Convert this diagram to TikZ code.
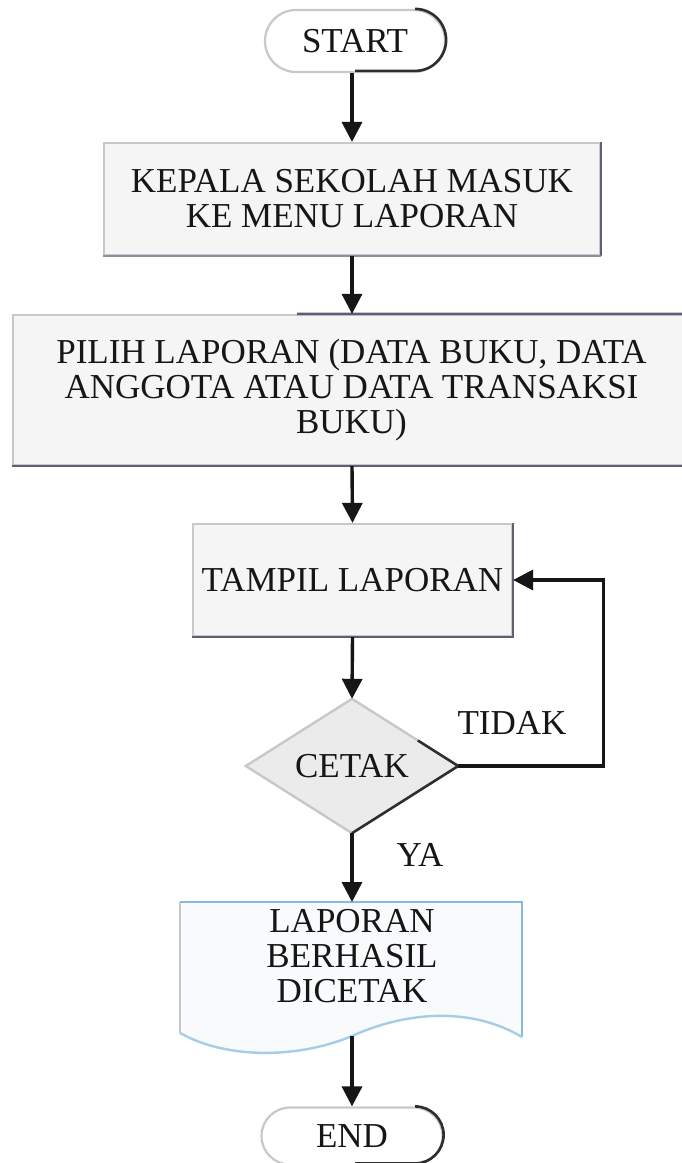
\documentclass[tikz,border=0pt]{standalone}
\usepackage{fontspec}
\setmainfont{Liberation Serif}
\usetikzlibrary{arrows.meta,shapes.geometric,calc}

\definecolor{ink}{HTML}{161616}
\definecolor{boxfill}{HTML}{F5F5F5}
\definecolor{edgelight}{HTML}{C8C8CC}
\definecolor{edgedark}{HTML}{5E5E76}
\definecolor{termdark}{HTML}{2E2E2E}
\definecolor{diafill}{HTML}{EBEBEB}
\definecolor{docfill}{HTML}{F8FAFC}
\definecolor{docblue}{HTML}{86BBDF}
\definecolor{docwave}{HTML}{A6CDE8}

\begin{document}
\begin{tikzpicture}[x=1pt,y=-1pt,
  every node/.style={font=\fontsize{35}{35}\selectfont, text=ink, inner sep=0pt},
  procbox/.style={draw=edgelight, fill=boxfill, line width=2.2pt, align=center},
  termbox/.style={draw=edgelight, fill=white, line width=2.2pt},
  darkedge/.style={draw=edgedark, line width=2.4pt},
  termedge/.style={draw=termdark, line width=2.6pt},
  arr/.style={draw=ink, line width=3.4pt, -{Triangle[width=20pt,length=20pt]}},
  lbl/.style={text=ink}]

\useasboundingbox (0,0) rectangle (682,1163);
\fill[white] (0,0) rectangle (682,1163);

% start terminal
\node[termbox, rounded corners=31pt, minimum width=180pt, minimum height=62pt] (start) at (355,41) {START};
\draw[termedge] ([xshift=-31pt]start.north east) arc[start angle=90, end angle=-90, radius=31pt] -- ++(-60pt,0);

% process steps
\node[procbox, minimum width=496pt, minimum height=112pt] (b1) at (352,199)
  {KEPALA SEKOLAH MASUK\\KE MENU LAPORAN};
\draw[darkedge] (b1.north east) -- (b1.south east);
\draw[draw=edgedark!70, line width=2.2pt] (b1.south east) -- (b1.south west);

\node[procbox, minimum width=677pt, minimum height=150pt] (b2) at (351.5,390)
  {PILIH LAPORAN (DATA BUKU, DATA\\ANGGOTA ATAU DATA TRANSAKSI\\BUKU)};
\draw[darkedge] ($(b2.north west)!0.42!(b2.north east)$) -- (b2.north east);
\draw[darkedge] (b2.south east) -- (b2.south west);

\node[procbox, minimum width=319pt, minimum height=112pt] (b3) at (352.5,580) {TAMPIL LAPORAN};
\draw[darkedge] (b3.north east) -- (b3.south east) -- (b3.south west);

% decision
\node[diamond, fill=diafill, aspect=1.58, minimum width=212pt, minimum height=134pt] (d) at (352,766) {CETAK};
\draw[draw=edgelight, line width=2.4pt] ($(d.north)!0.62!(d.east)$) -- (d.north) -- (d.west) -- (d.south);
\draw[draw=termdark, line width=2.6pt] ($(d.north)!0.62!(d.east)$) -- (d.east) -- (d.south);

% document output
\fill[docfill] (180,902) -- (522,902) -- (522,1037)
  .. controls (470,1006) and (405,1012) .. (352,1036)
  .. controls (300,1058) and (228,1060) .. (180,1033) -- cycle;
\draw[draw=edgelight, line width=2pt] (180,1033) -- (180,902);
\draw[draw=docblue, line width=2.2pt] (180,902) -- (522,902) -- (522,1037);
\draw[draw=docwave, line width=2.4pt] (522,1037)
  .. controls (470,1006) and (405,1012) .. (352,1036)
  .. controls (300,1058) and (228,1060) .. (180,1033);
\coordinate (docb) at (352,1036);
\node[align=center] (doc) at (352,956) {LAPORAN\\BERHASIL\\DICETAK};
\coordinate (doct) at (352,902);

% end terminal
\node[termbox, rounded corners=28.5pt, minimum width=181pt, minimum height=57pt] (end) at (352,1136) {END};
\draw[termedge] ([xshift=-28.5pt]end.north east) arc[start angle=90, end angle=-90, radius=28.5pt] -- ++(-60pt,0);

% connectors
\draw[arr] (start.south -| b1.north) -- (b1.north);
\draw[arr] (b1.south) -- (b1.south |- b2.north);
\draw[arr] (b1.south |- b2.south) -- (b3.north);
\draw[arr] (b3.south) -- (d.north);
\draw[arr] (d.south) -- (doct);
\draw[arr] (docb) -- (end.north);
\draw[arr] (d.east) -- ++(145,0) |- (b3.east);

% branch labels
\node[lbl] (tidak) at (512,723) {TIDAK};
\node[lbl] (ya) at (420,855) {YA};
\end{tikzpicture}
\end{document}
